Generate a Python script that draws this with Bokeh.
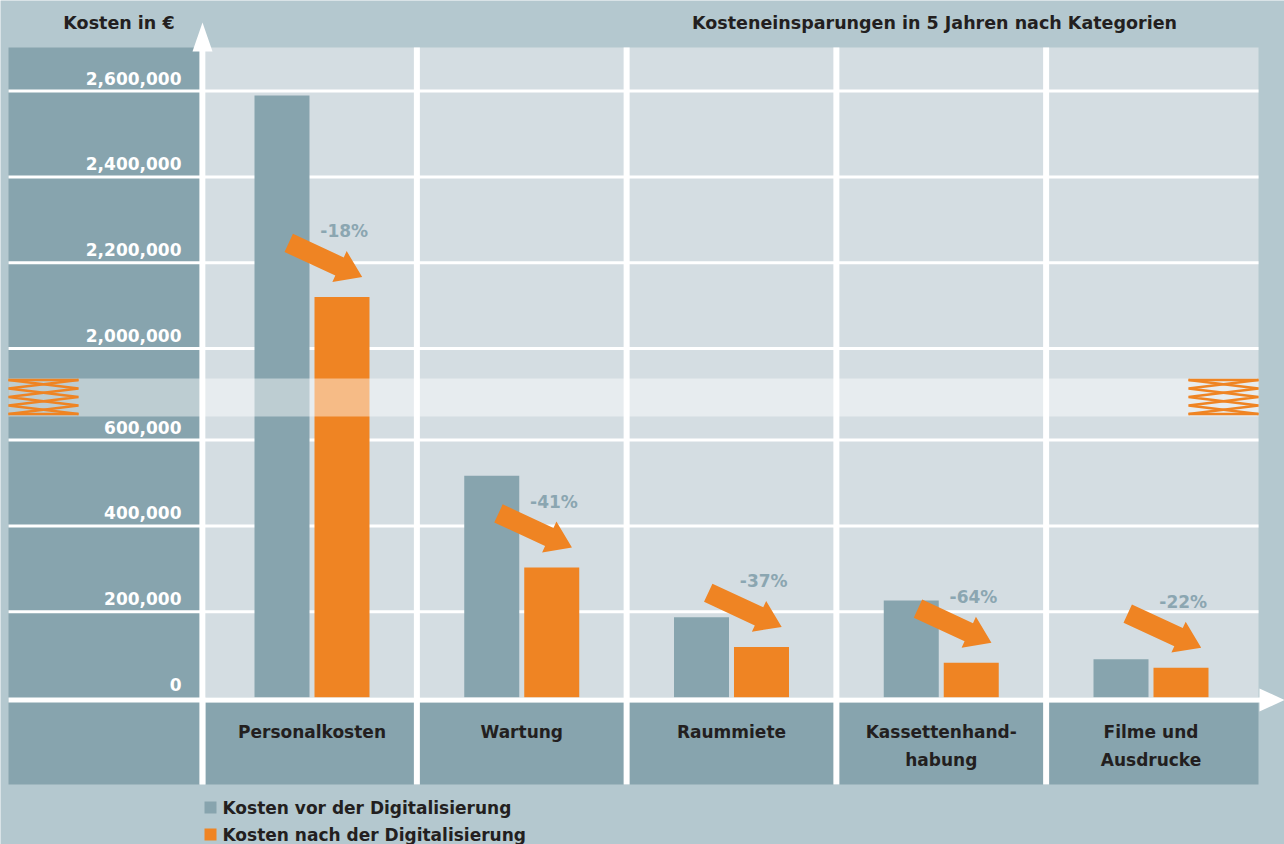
import math
import numpy as np
from bokeh.plotting import figure
from bokeh.models import Range1d
from bokeh.core.properties import value
from bokeh.embed import file_html
from bokeh.resources import INLINE

# ---------------- data ----------------
categories = ["Personalkosten", "Wartung", "Raummiete", "Kassettenhand-\nhabung", "Filme und\nAusdrucke"]
kosten_vor = [2590000, 517000, 187000, 226000, 89000]
kosten_nach = [2120000, 303000, 118000, 81000, 69500]
pct_labels = ["-18%", "-41%", "-37%", "-64%", "-22%"]
tick_values = [0, 200000, 400000, 600000, 2000000, 2200000, 2400000, 2600000]
tick_labels = ["0", "200,000", "400,000", "600,000", "2,000,000", "2,200,000", "2,400,000", "2,600,000"]
series_names = ["Kosten vor der Digitalisierung", "Kosten nach der Digitalisierung"]
y_title = "Kosten  in €"
chart_title = "Kosteneinsparungen in 5 Jahren nach Kategorien"

# ---------------- style ----------------
BG = "#b4c8cf"
DARK = "#87a4ae"
LIGHT = "#d4dde2"
ORANGE = "#ef8423"
TEXT = "#231f20"
PCT = "#8ba6b1"
FONT = value("DejaVu Sans")

W, H = 1284, 844
ORIGIN = 0             # page position of the figure's top-left corner
X0_PX = 311.5          # page x of first category centre
CAT_PX = 209.75        # pixels per category
Y0_PX = 697.0          # page y of value 0
PPU = 85.8 / 200000    # pixels per value unit
BREAK_OFFSET = 1186500 # broken axis: values above the break are shifted down


def disp(v):
    return v - BREAK_OFFSET if v >= 1000000 else v


def fx(px):
    return (px - X0_PX) / CAT_PX


def fy(py):
    return (Y0_PX - py) / PPU


p = figure(width=W, height=H,
           x_range=Range1d(fx(ORIGIN), fx(ORIGIN + W)), y_range=Range1d(fy(ORIGIN + H), fy(ORIGIN)),
           output_backend="svg", toolbar_location=None, min_border=0,
           x_axis_type=None, y_axis_type=None,
           background_fill_color=BG, border_fill_color=BG, outline_line_color=None)

# panels
p.quad(left=[fx(8)], right=[fx(199)], top=[fy(47)], bottom=[fy(784)], color=DARK, line_color=None)
p.quad(left=[fx(205)], right=[fx(1258)], top=[fy(47)], bottom=[fy(697)], color=LIGHT, line_color=None)
p.quad(left=[fx(205)], right=[fx(1258)], top=[fy(702)], bottom=[fy(784)], color=DARK, line_color=None)

# grid lines
gt = [disp(t) for t in tick_values if t != 0]
p.segment(x0=[fx(8)] * len(gt), x1=[fx(1258)] * len(gt), y0=gt, y1=gt, line_color="white", line_width=3)

# bars
xs = np.arange(len(categories))
bw = 55 / CAT_PX
p.vbar(x=xs - 0.143, top=[disp(v) for v in kosten_vor], bottom=0, width=bw, color=DARK, line_color=None)
p.vbar(x=xs + 0.143, top=[disp(v) for v in kosten_nach], bottom=0, width=bw, color=ORANGE, line_color=None)

# axis break band
p.quad(left=[fx(8)], right=[fx(1258)], top=[fy(378)], bottom=[fy(416)], color="white", alpha=0.45, line_color=None)

# x axis line + arrow
p.quad(left=[fx(8)], right=[fx(1262)], top=[fy(697)], bottom=[fy(702)], color="white", line_color=None)
p.patch(x=[fx(1259), fx(1284), fx(1259)], y=[fy(688), fy(699.5), fy(711)], color="white", line_color=None)

# y axis line + arrow
p.quad(left=[fx(199)], right=[fx(205)], top=[fy(50)], bottom=[fy(784)], color="white", line_color=None)
p.patch(x=[fx(192), fx(202), fx(212)], y=[fy(51), fy(22), fy(51)], color="white", line_color=None)

# column separators
bounds = xs[:-1] + 0.5
d3 = 3 / CAT_PX
p.quad(left=bounds - d3, right=bounds + d3, top=[fy(47)] * len(bounds), bottom=[fy(784)] * len(bounds),
       color="white", line_color=None)

# zigzag break marks
zx, zy = [], []
levels = [379.5, 388, 396.5, 405, 413.5]
for (l, r) in [(8, 78), (1188, 1258)]:
    zx.append([fx(l), fx(r)]); zy.append([fy(levels[0])] * 2)
    zx.append([fx(l), fx(r)]); zy.append([fy(levels[-1])] * 2)
    zx.append([fx(l if k % 2 == 0 else r) for k in range(5)]); zy.append([fy(v) for v in levels])
    zx.append([fx(r if k % 2 == 0 else l) for k in range(5)]); zy.append([fy(v) for v in levels])
p.multi_line(xs=zx, ys=zy, line_color=ORANGE, line_width=2.5)

# arrows
ux, uy = 73.7, 34.2
L = math.hypot(ux, uy)
ux, uy = ux / L, uy / L
nx, ny = -uy, ux
T = (-81 * ux, -81 * uy)
B = (-25 * ux, -25 * uy)
shape = [(T[0] + 10 * nx, T[1] + 10 * ny), (B[0] + 10 * nx, B[1] + 10 * ny), (B[0] + 17 * nx, B[1] + 17 * ny),
         (0, 0), (B[0] - 17 * nx, B[1] - 17 * ny), (B[0] - 10 * nx, B[1] - 10 * ny), (T[0] - 10 * nx, T[1] - 10 * ny)]
axs, ays, tipx, tipy = [], [], [], []
for i, v in enumerate(kosten_nach):
    tx = i + 50.2 / CAT_PX
    ty = disp(v) + 20 / PPU
    tipx.append(tx); tipy.append(ty)
    axs.append([tx + sx / CAT_PX for sx, sy in shape])
    ays.append([ty - sy / PPU for sx, sy in shape])
p.patches(xs=axs, ys=ays, color=ORANGE, line_color=None)
p.text(x=tipx, y=tipy, text=pct_labels, x_offset=-18, y_offset=-46, text_font=FONT, text_font_style="bold",
       text_font_size="17px", text_color=PCT, text_align="center", text_baseline="middle")

# y tick labels
p.text(x=[fx(181)] * len(tick_values), y=[disp(t) for t in tick_values], text=tick_labels, y_offset=-13,
       text_font=FONT, text_font_style="bold", text_font_size="17px", text_color="white",
       text_align="right", text_baseline="middle")

# category labels
cx, cy, ct = [], [], []
for i, c in enumerate(categories):
    for j, line in enumerate(c.split("\n")):
        cx.append(i); cy.append(fy(731 + 28 * j)); ct.append(line)
p.text(x=cx, y=cy, text=ct, text_font=FONT, text_font_style="bold", text_font_size="17px",
       text_color=TEXT, text_align="center", text_baseline="middle")

# titles
p.text(x=[fx(121.5)], y=[fy(22)], text=[y_title], text_font=FONT, text_font_style="bold", text_font_size="17.5px",
       text_color=TEXT, text_align="center", text_baseline="middle")
p.text(x=[fx(934)], y=[fy(22)], text=[chart_title], text_font=FONT, text_font_style="bold",
       text_font_size="17.5px", text_color=TEXT, text_align="center", text_baseline="middle")

# legend
rows = [807, 834]
for name, col, r in zip(series_names, [DARK, ORANGE], rows):
    p.quad(left=[fx(204)], right=[fx(216)], top=[fy(r - 6)], bottom=[fy(r + 6)], color=col, line_color=None)
    p.text(x=[fx(222)], y=[fy(r)], text=[name], text_font=FONT, text_font_style="bold", text_font_size="17px",
           text_color=TEXT, text_align="left", text_baseline="middle")

open("out.html", "w").write(file_html(p, INLINE))
